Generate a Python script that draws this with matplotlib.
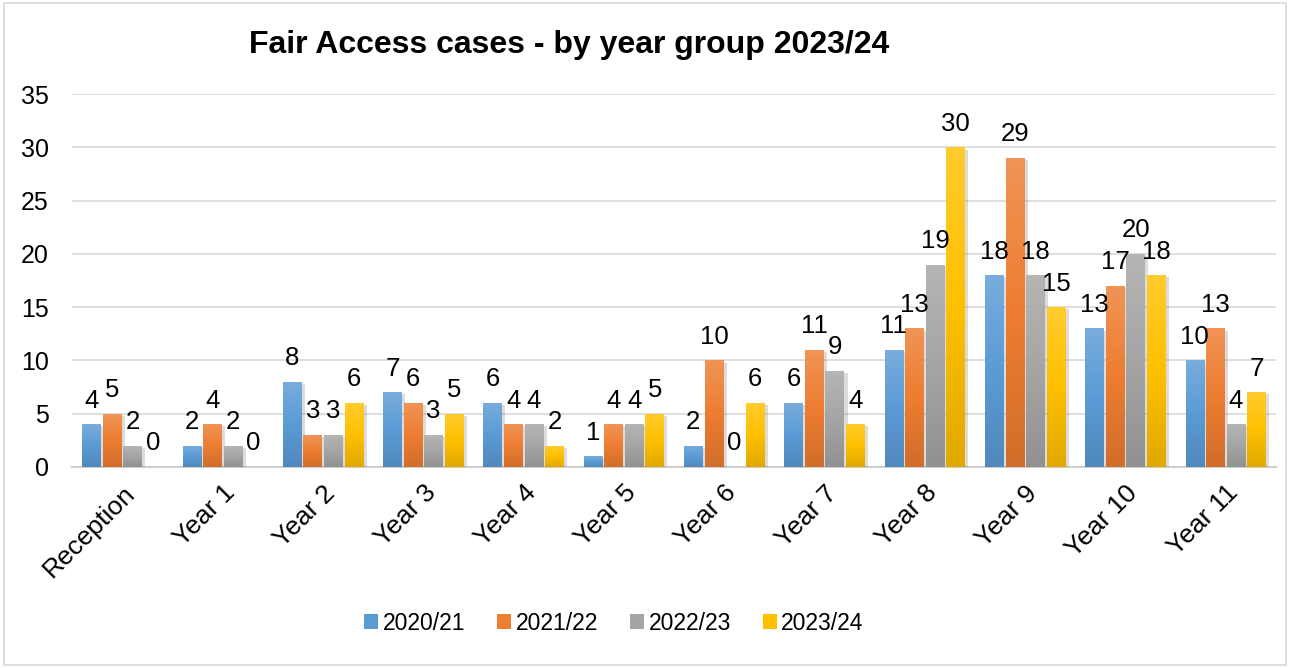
import matplotlib
matplotlib.use('Agg')

import numpy as np
import matplotlib.pyplot as plt
import matplotlib.patches as mpatches
import matplotlib.patheffects as pe
from matplotlib.colors import LinearSegmentedColormap, to_rgb

plt.rcParams['font.family'] = ['Liberation Sans', 'DejaVu Sans']

# 数据
categories = ['Reception', 'Year 1', 'Year 2', 'Year 3', 'Year 4', 'Year 5',
              'Year 6', 'Year 7', 'Year 8', 'Year 9', 'Year 10', 'Year 11']
series_names = ['2020/21', '2021/22', '2022/23', '2023/24']
y2020 = [4, 2, 8, 7, 6, 1, 2, 6, 11, 18, 13, 10]
y2021 = [5, 4, 3, 6, 4, 4, 10, 11, 13, 29, 17, 13]
y2022 = [2, 2, 3, 3, 4, 4, 0, 9, 19, 18, 20, 4]
y2023 = [0, 0, 6, 5, 2, 5, 6, 4, 30, 15, 18, 7]
yticks = [0, 5, 10, 15, 20, 25, 30, 35]

colors = ['#5B9BD5', '#ED7D31', '#A5A5A5', '#FFC000']
series = [y2020, y2021, y2022, y2023]


def shade(c, f):
    r, g, b = to_rgb(c)
    if f > 0:
        return (r + (1 - r) * f, g + (1 - g) * f, b + (1 - b) * f)
    return (r * (1 + f), g * (1 + f), b * (1 + f))


fig = plt.figure(figsize=(12.9, 6.68), dpi=100)
ax = fig.add_axes([0.056, 0.301, 0.933, 0.558])

x = np.arange(len(categories))
width = 0.185
step = 0.205

for i, (vals, col) in enumerate(zip(series, colors)):
    pos = x + (i - 1.5) * step
    bars = ax.bar(pos, vals, width, color=col, zorder=3,
                  path_effects=[pe.SimplePatchShadow(offset=(2.5, -1.5), alpha=0.22,
                                                     shadow_rgbFace='#606060'),
                                pe.Normal()])
    cmap = LinearSegmentedColormap.from_list('g', [shade(col, -0.12), col, shade(col, 0.18)])
    grad = np.linspace(0, 1, 256).reshape(-1, 1)
    for b, v in zip(bars, vals):
        if v <= 0:
            continue
        im = ax.imshow(grad, cmap=cmap, origin='lower', aspect='auto', zorder=4,
                       extent=[b.get_x(), b.get_x() + b.get_width(), 0, v])
        im.set_clip_path(b)
    for p, v in zip(pos, vals):
        ax.annotate(str(v), (p, v), xytext=(0, 12), textcoords='offset points',
                    ha='center', va='baseline', fontsize=18.5, zorder=5)

ax.set_xlim(-0.5, len(categories) - 0.5)
ax.set_ylim(0, 35)
ax.set_yticks(yticks)
ax.set_xticks(x)
ax.set_xticklabels(categories, rotation=45, ha='right', rotation_mode='anchor', fontsize=19)
ax.tick_params(axis='y', labelsize=18, length=0, pad=17)
ax.tick_params(axis='x', length=0, pad=10)
ax.grid(axis='y', color='#D9D9D9', linewidth=1.2, zorder=0)
for s in ['top', 'right', 'left']:
    ax.spines[s].set_visible(False)
ax.spines['bottom'].set_color('#D0D0D0')
ax.spines['bottom'].set_linewidth(1.5)

# 标题
fig.text(0.441, 0.933, 'Fair Access cases - by year group 2023/24',
         ha='center', va='center', fontsize=23, fontweight='bold')

# 图例
handles = [mpatches.Patch(facecolor=c, label=n) for c, n in zip(colors, series_names)]
fig.legend(handles=handles, loc='center', bbox_to_anchor=(0.476, 0.067), ncol=4,
           frameon=False, fontsize=16.5, handlelength=0.6, handleheight=0.6,
           handletextpad=0.2, columnspacing=1.4)

# 边框
fig.patches.append(mpatches.Rectangle((0.003, 0.004), 0.994, 0.992, transform=fig.transFigure,
                                      fill=False, edgecolor='#D9D9D9', linewidth=1.2))

plt.savefig('out.png', dpi=100)
